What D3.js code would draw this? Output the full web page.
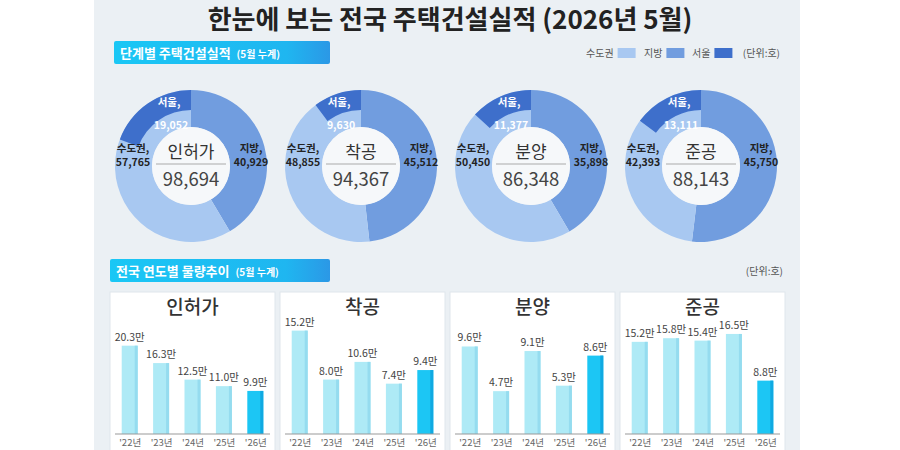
<!DOCTYPE html>
<html>
<head>
<meta charset="utf-8">
<script src="https://cdn.jsdelivr.net/npm/d3@7"></script>
<style>
  body { margin: 0; background: #fff; }
  svg { display: block; font-family: "Noto Sans CJK KR", "Noto Sans", sans-serif; }
</style>
</head>
<body>
<div id="chart"></div>
<script>
// ---- data ----
var stages = ["인허가", "착공", "분양", "준공"];
var metroVals = [57765, 48855, 50450, 42393];   // 수도권
var localVals = [40929, 45512, 35898, 45750];   // 지방
var seoulVals = [19052, 9630, 11377, 13111];    // 서울 (수도권 중)
var totalVals = [98694, 94367, 86348, 88143];
var years = ["'22년", "'23년", "'24년", "'25년", "'26년"];
var trend = [
    [20.3, 16.3, 12.5, 11.0, 9.9],
    [15.2, 8.0, 10.6, 7.4, 9.4],
    [9.6, 4.7, 9.1, 5.3, 8.6],
    [15.2, 15.8, 15.4, 16.5, 8.8]
];
var yMax = [30.8, 19.7, 14.7, 22.1];   // per panel scale top
var legendNames = ["수도권", "지방", "서울"];
var legendColors = ["#a8c8f1", "#719ddf", "#3e6fcb"];

var W = 900, H = 450;
var svg = d3.select("#chart").append("svg")
    .attr("width", W).attr("height", H);

var fmt = d3.format(",");

// background panel
svg.append("rect").attr("x", 94).attr("y", 0).attr("width", 706).attr("height", H)
    .attr("fill", "#ebf0f4");

// title
svg.append("text")
    .attr("x", 450).attr("y", 29)
    .attr("text-anchor", "middle")
    .attr("font-size", 26).attr("font-weight", 700)
    .attr("fill", "#222")
    .text("한눈에 보는 전국 주택건설실적 (2026년 5월)");

// gradient for section headers
var defs = svg.append("defs");
var grad = defs.append("linearGradient").attr("id", "hdr");
grad.append("stop").attr("offset", "0%").attr("stop-color", "#1ac7f5");
grad.append("stop").attr("offset", "80%").attr("stop-color", "#1fb6f0");
grad.append("stop").attr("offset", "100%").attr("stop-color", "#2b98e6");

function header(x, y, w, main, sub){
    svg.append("rect").attr("x", x).attr("y", y).attr("width", w).attr("height", 23)
        .attr("rx", 2).attr("fill", "url(#hdr)");
    var t = svg.append("text").attr("x", x + 6).attr("y", y + 16.5).attr("fill", "#fff");
    t.append("tspan").attr("font-size", 13).attr("font-weight", 700).text(main);
    t.append("tspan").attr("dx", 6).attr("font-size", 10).attr("font-weight", 700).text(sub);
}
header(114, 41, 216, "단계별 주택건설실적", "(5월 누계)");
header(110, 259, 220, "전국 연도별 물량추이", "(5월 누계)");

// legend
var legX = [586, 644, 692];
var legend = svg.append("g").attr("class", "legend");
legendNames.forEach(function(n, i){
    var tx = legend.append("text").attr("x", legX[i]).attr("y", 57)
        .attr("font-size", 10).attr("fill", "#555").text(n);
    var w = tx.node().getComputedTextLength();
    legend.append("rect").attr("x", legX[i] + w + 4).attr("y", 48)
        .attr("width", 18).attr("height", 10).attr("fill", legendColors[i]);
});
legend.append("text").attr("x", 780).attr("y", 57).attr("text-anchor", "end")
    .attr("font-size", 10).attr("fill", "#555").text("(단위:호)");
svg.append("text").attr("x", 783).attr("y", 275).attr("text-anchor", "end")
    .attr("font-size", 10).attr("fill", "#555").text("(단위:호)");

// ---- donuts ----
var rOut = 76, rIn = 39, rSeoul = 56;
var pie = d3.pie().sort(null).value(function(d){ return d.v; });
var arc = d3.arc().innerRadius(rIn).outerRadius(rOut);
var seoulArc = d3.arc().innerRadius(rSeoul).outerRadius(rOut);

stages.forEach(function(s, i){
    var cx = 191 + i * 170, cy = 166;
    var g = svg.append("g").attr("transform", "translate(" + cx + "," + cy + ")");
    var parts = [
        {k: "지방", v: localVals[i], c: legendColors[1]},
        {k: "수도권", v: metroVals[i], c: legendColors[0]}
    ];
    g.selectAll("path.slice").data(pie(parts)).enter().append("path")
        .attr("class", "slice")
        .attr("d", arc)
        .attr("fill", function(d){ return d.data.c; });
    var a0 = 2 * Math.PI * (1 - seoulVals[i] / totalVals[i]);
    g.append("path")
        .attr("d", seoulArc({startAngle: a0, endAngle: 2 * Math.PI}))
        .attr("fill", legendColors[2]);
    g.append("circle").attr("r", rIn).attr("fill", "#f6f8fa");

    // center labels
    g.append("text").attr("y", -8).attr("text-anchor", "middle")
        .attr("font-size", 17).attr("fill", "#333").text(s);
    g.append("line").attr("x1", -35).attr("x2", 35).attr("y1", -2).attr("y2", -2)
        .attr("stroke", "#aaa").attr("stroke-width", 1);
    g.append("text").attr("y", 20).attr("text-anchor", "middle")
        .attr("font-size", 18.5).attr("fill", "#444").text(fmt(totalVals[i]));

    // slice labels
    function lab(x, y, lines, col){
        var t = g.append("text").attr("text-anchor", "middle")
            .attr("font-size", 10.5).attr("font-weight", 700).attr("fill", col);
        lines.forEach(function(l, j){
            t.append("tspan").attr("x", x).attr("y", y + j * 14).text(l);
        });
    }
    lab(-58, -14, ["수도권,", fmt(metroVals[i])], "#222");
    lab(60, -14, ["지방,", fmt(localVals[i])], "#222");
    lab(-22, -60, ["서울,"], "#fff");
    lab(-20, -37, [fmt(seoulVals[i])], "#fff");
});

// ---- bar panels ----
var yBase = 434, yTop = 300;
stages.forEach(function(s, i){
    var px = 110 + i * 170;
    var g = svg.append("g");
    g.append("rect").attr("x", px).attr("y", 292).attr("width", 165).attr("height", 170)
        .attr("fill", "#fff").attr("stroke", "#dfe6ec").attr("stroke-width", 1);
    g.append("text").attr("x", px + 82.5).attr("y", 314).attr("text-anchor", "middle")
        .attr("font-size", 19).attr("font-weight", 500).attr("fill", "#333").text(s);

    var x = d3.scalePoint().domain(years).range([px + 4, px + 161]).padding(0.5);
    var y = d3.scaleLinear().domain([0, yMax[i]]).range([yBase, yTop]);
    var bw = 16;

    var data = years.map(function(yr, j){ return {yr: yr, v: trend[i][j], last: j === years.length - 1}; });

    g.selectAll("rect.bar").data(data).enter().append("rect")
        .attr("class", "bar")
        .attr("x", function(d){ return x(d.yr) - bw / 2; })
        .attr("y", function(d){ return y(d.v); })
        .attr("width", bw)
        .attr("height", function(d){ return yBase - y(d.v); })
        .attr("fill", function(d){ return d.last ? "#1cc6f4" : "#aeeaf6"; });
    g.selectAll("rect.edge").data(data).enter().append("rect")
        .attr("class", "edge")
        .attr("x", function(d){ return x(d.yr) + bw / 2 - 3; })
        .attr("y", function(d){ return y(d.v); })
        .attr("width", 3)
        .attr("height", function(d){ return yBase - y(d.v); })
        .attr("fill", function(d){ return d.last ? "#10a9e2" : "#95dcef"; });
    g.selectAll("text.val").data(data).enter().append("text")
        .attr("class", "val")
        .attr("x", function(d){ return x(d.yr); })
        .attr("y", function(d){ return y(d.v) - 5; })
        .attr("text-anchor", "middle").attr("font-size", 10.5).attr("fill", "#444")
        .text(function(d){ return d.v.toFixed(1) + "만"; });

    var ax = g.append("g").attr("transform", "translate(0," + yBase + ")")
        .call(d3.axisBottom(x).tickSize(0).tickPadding(5));
    ax.select(".domain").attr("stroke", "#999").attr("d", "M" + (px + 5) + ",0H" + (px + 160));
    ax.selectAll("text").attr("font-size", 9.5).attr("fill", "#666")
        .attr("font-family", "\"Noto Sans CJK KR\", sans-serif");
});
</script>
</body>
</html>
